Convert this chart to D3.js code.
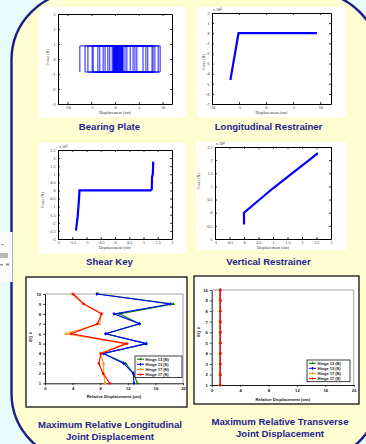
<!DOCTYPE html>
<html>
<head>
<meta charset="utf-8">
<script src="https://cdn.jsdelivr.net/npm/d3@7"></script>
<style>
  html, body { margin: 0; padding: 0; background: #e8fcfc; }
  svg { display: block; }
</style>
</head>
<body>
<svg id="board" width="366" height="444"></svg>
<script>
// ---------- data ----------
// Bearing plate: friction force plateau (x10^?) and the displacements where the motion reverses
const bearingForce = 0.87;
const bearingReversals = [-7.4, 9.5, -6.3, 9.1, -5.7, 8.4, -4.8, 8.0, -4.6, 7.8, -3.6, 6.9,
  -3.2, 6.5, -2.5, 5.9, -2.1, 4.6, -1.5, 4.2, -1.1, 3.8, -0.6, 3.2, -0.4, 2.5, -0.3, 2.1,
  -0.2, 1.7, -0.1, 1.6, 0.0, 1.5, 0.1, 1.4, 0.2, 1.3, 0.3, 1.2, 0.4, 1.1, 0.5, 1.0, 0.6, 0.9, 0.7, 0.8];
const bearingXTicks = [-10, -5, 0, 5, 10];
const bearingYTicks = [-3, -2, -1, 0, 1, 2, 3];

// Longitudinal restrainer: [displacement (cm), force (x10^4 N)]
const restrainerLong = [[-6.6, -4.63], [-5.1, 0], [9.4, 0]];
const restrainerLongXTicks = [-10, -5, 0, 5, 10];
const restrainerLongYTicks = [-7, -6, -5, -4, -3, -2, -1, 0, 1, 2];

// Shear key: [displacement (cm), force (x10^5 N)]
const shearKey = [[-1.37, -2.48], [-1.31, -1.62], [-1.27, -0.69], [-1.25, -0.14], [-1.25, 0],
  [1.25, 0], [1.29, 0.07], [1.30, 0.81], [1.33, 1.06], [1.34, 1.78]];
const shearKeyXTicks = [-2, -1.5, -1, -0.5, 0, 0.5, 1, 1.5, 2];
const shearKeyYTicks = [-3, -2.5, -2, -1.5, -1, -0.5, 0, 0.5, 1, 1.5, 2, 2.5];

// Vertical restrainer: [displacement (cm), force (x10^4 N)]
const restrainerVert = [[0, -0.45], [0, 0], [1, 0.93], [2.55, 2.27]];
const restrainerVertXTicks = [-1, -0.5, 0, 0.5, 1, 1.5, 2, 2.5, 3];
const restrainerVertYTicks = [-1, -0.5, 0, 0.5, 1, 1.5, 2, 2.5];

// Maximum relative joint displacement (cm) per earthquake
const eqNumbers = [1, 2, 3, 4, 5, 6, 7, 8, 9, 10];
const hingeNames = ["Hinge 13 (N)", "Hinge 13 (S)", "Hinge 17 (N)", "Hinge 17 (S)"];
const longH13N = [13.4, 12.8, 11.7, 8.5, 14.7, 8.8, 13.7, 10.8, 18.6, 7.7];
const longH13S = [12.9, 12.8, 11.4, 8.45, 14.7, 8.8, 13.7, 10.0, 18.2, 7.5];
const longH17N = [8.7, 8.5, 8.5, 8.0, 11.6, 3.0, 7.9, 8.2, 5.6, 3.9];
const longH17S = [9.4, 8.4, 7.8, 8.1, 11.9, 3.8, 7.6, 8.2, 5.6, 4.1];
const transH13N = [1.2, 1.2, 1.2, 1.2, 1.2, 1.2, 1.2, 1.2, 1.2, 1.2];
const transH13S = [1.2, 1.2, 1.2, 1.2, 1.2, 1.2, 1.2, 1.2, 1.2, 1.2];
const transH17N = [1.2, 1.2, 1.2, 1.2, 1.2, 1.2, 1.2, 1.2, 1.2, 1.2];
const transH17S = [1.2, 1.2, 1.2, 1.2, 1.2, 1.2, 1.2, 1.2, 1.2, 1.2];
const jointXTicks = [0, 4, 8, 12, 16, 20];

const captions = {
  bearing: ["Bearing Plate"],
  long: ["Longitudinal Restrainer"],
  shear: ["Shear Key"],
  vert: ["Vertical Restrainer"],
  jointLong: ["Maximum Relative Longitudinal", "Joint Displacement"],
  jointTrans: ["Maximum Relative Transverse", "Joint Displacement"]
};

// ---------- drawing ----------
const svg = d3.select("#board");
const navy = "#1c1c8c";
const titleColor = "#232390";

// slide background and rounded panel
svg.append("rect").attr("width", 366).attr("height", 444).attr("fill", "#e8fcfc");
svg.append("rect")
  .attr("x", 11.5).attr("y", -8).attr("width", 368).attr("height", 469)
  .attr("rx", 68).attr("ry", 68)
  .attr("fill", "#fffdd2").attr("stroke", navy).attr("stroke-width", 2.4);

// fragment of a neighbouring figure on the left edge
const frag = svg.append("g");
frag.append("rect").attr("x", 0).attr("y", 232).attr("width", 12.5).attr("height", 50).attr("fill", "#fbfbfb");
frag.append("rect").attr("x", 1).attr("y", 244).attr("width", 3).attr("height", 1).attr("fill", "#999");
frag.append("rect").attr("x", 0).attr("y", 253).attr("width", 8).attr("height", 5).attr("fill", "#b8b8b8");
frag.append("rect").attr("x", 0).attr("y", 264).attr("width", 3).attr("height", 1.5).attr("fill", "#999");
frag.append("rect").attr("x", 6).attr("y", 263.5).attr("width", 3).attr("height", 2).attr("fill", "#888");

const fmt = d => String(d);

function matlabPanel(o) {
  const g = svg.append("g");
  g.append("rect").attr("x", o.bg[0]).attr("y", o.bg[1]).attr("width", o.bg[2]).attr("height", o.bg[3]).attr("fill", "#fff");
  const x = d3.scaleLinear().domain(o.xDomain).range([o.frame[0], o.frame[2]]);
  const y = d3.scaleLinear().domain(o.yDomain).range([o.frame[3], o.frame[1]]);
  const styleAxis = sel => {
    sel.selectAll("path.domain").attr("stroke", "#000").attr("stroke-width", 1);
    sel.selectAll(".tick line").attr("stroke", "#000").attr("stroke-width", 0.8);
    sel.selectAll("text").attr("font-family", "Liberation Serif, serif").attr("font-size", 4).attr("fill", "#222");
  };
  g.append("g").attr("transform", `translate(0,${o.frame[3]})`)
    .call(d3.axisBottom(x).tickValues(o.xTicks).tickSize(-2).tickSizeOuter(0).tickPadding(2.5).tickFormat(fmt)).call(styleAxis);
  g.append("g").attr("transform", `translate(0,${o.frame[1]})`)
    .call(d3.axisTop(x).tickValues(o.xTicks).tickSize(-2).tickSizeOuter(0).tickFormat("")).call(styleAxis);
  g.append("g").attr("transform", `translate(${o.frame[0]},0)`)
    .call(d3.axisLeft(y).tickValues(o.yTicks).tickSize(-2).tickSizeOuter(0).tickPadding(2.5).tickFormat(fmt)).call(styleAxis);
  g.append("g").attr("transform", `translate(${o.frame[2]},0)`)
    .call(d3.axisRight(y).tickValues(o.yTicks).tickSize(-2).tickSizeOuter(0).tickFormat("")).call(styleAxis);
  g.append("path").datum(o.points)
    .attr("d", d3.line().x(d => x(d[0])).y(d => y(d[1])))
    .attr("fill", "none").attr("stroke", "#0000ff").attr("stroke-width", o.lw)
    .attr("stroke-linejoin", "miter");
  if (o.expo) {
    const t = g.append("text").attr("x", o.frame[0] + 1).attr("y", o.frame[1] - 2)
      .attr("font-family", "Liberation Serif, serif").attr("font-size", 4).attr("fill", "#222");
    t.append("tspan").text("x 10");
    t.append("tspan").attr("dy", -1.5).attr("font-size", 3).text(o.expo);
  }
  g.append("text").attr("transform", `translate(${o.ylab[0]},${o.ylab[1]}) rotate(-90)`)
    .attr("text-anchor", "middle").attr("font-family", "Liberation Serif, serif").attr("font-size", 4).attr("fill", "#333")
    .text("Force (N)");
  g.append("text").attr("x", (o.frame[0] + o.frame[2]) / 2).attr("y", o.frame[3] + 10)
    .attr("text-anchor", "middle").attr("font-family", "Liberation Serif, serif").attr("font-size", 4.2).attr("fill", "#333")
    .text("Displacement (cm)");
  caption(o.caption, (o.bg[0] + o.bg[0] + o.bg[2]) / 2 - 3, o.capY);
}

function caption(lines, cx, cy) {
  lines.forEach((s, i) => {
    svg.append("text").attr("x", cx).attr("y", cy + i * 11.5)
      .attr("text-anchor", "middle").attr("font-family", "Liberation Sans, Arial, sans-serif")
      .attr("font-weight", "bold").attr("font-size", 9.6).attr("fill", titleColor).text(s);
  });
}

// bearing plate hysteresis: vertical jumps at reversals, sliding at constant force
const bearingPath = [];
bearingReversals.forEach((r, i) => {
  const s = i % 2 === 0 ? -1 : 1;
  bearingPath.push([r, s * bearingForce]);
  bearingPath.push([r, -s * bearingForce]);
});

matlabPanel({ bg: [39, 7, 147, 110], frame: [58, 14, 172, 104], xDomain: [-12, 12], yDomain: [-3, 3],
  xTicks: bearingXTicks, yTicks: bearingYTicks, points: bearingPath, lw: 0.9,
  ylab: [49, 57], caption: captions.bearing, capY: 130 });
matlabPanel({ bg: [197, 7, 149, 110], frame: [212, 13, 331, 104], xDomain: [-10, 12], yDomain: [-7, 2],
  xTicks: restrainerLongXTicks, yTicks: restrainerLongYTicks, points: restrainerLong, lw: 2.2, expo: "4",
  ylab: [205, 62], caption: captions.long, capY: 130 });
matlabPanel({ bg: [39, 143, 147, 110], frame: [58, 150, 172, 239], xDomain: [-2, 2], yDomain: [-3, 2.5],
  xTicks: shearKeyXTicks, yTicks: shearKeyYTicks, points: shearKey, lw: 2.2, expo: "5",
  ylab: [44, 200], caption: captions.shear, capY: 265 });
matlabPanel({ bg: [196, 142, 151, 108], frame: [215, 147, 331, 239], xDomain: [-1, 3], yDomain: [-1, 2.5],
  xTicks: restrainerVertXTicks, yTicks: restrainerVertYTicks, points: restrainerVert, lw: 2.2, expo: "4",
  ylab: [200, 181], caption: captions.vert, capY: 265 });

// ---------- joint displacement charts ----------
const seriesColors = ["#008000", "#0000ff", "#ff9900", "#ff0000"];
const markerTypes = [d3.symbolTriangle, d3.symbolDiamond, d3.symbolTriangle, d3.symbolSquare];

function jointChart(o) {
  const g = svg.append("g");
  g.append("rect").attr("x", o.box[0]).attr("y", o.box[1]).attr("width", o.box[2]).attr("height", o.box[3])
    .attr("fill", "#fff").attr("stroke", "#111").attr("stroke-width", 1.3);
  const x = d3.scaleLinear().domain([0, 20]).range([o.plot[0], o.plot[2]]);
  const y = d3.scaleLinear().domain([1, 10]).range([o.plot[3], o.plot[1]]);
  // plot area border (gray top / right)
  g.append("path").attr("d", `M${o.plot[0]},${o.plot[1]}H${o.plot[2]}V${o.plot[3]}`)
    .attr("fill", "none").attr("stroke", "#8c8c8c").attr("stroke-width", 0.8);
  const styleAxis = sel => {
    sel.selectAll("path.domain").attr("stroke", "#000").attr("stroke-width", 0.9);
    sel.selectAll(".tick line").attr("stroke", "#000").attr("stroke-width", 0.8);
    sel.selectAll("text").attr("font-family", "Liberation Sans, Arial, sans-serif").attr("font-weight", "bold")
      .attr("font-size", 4.2).attr("fill", "#111");
  };
  g.append("g").attr("transform", `translate(0,${o.plot[3]})`)
    .call(d3.axisBottom(x).tickValues(jointXTicks).tickSize(1.8).tickSizeOuter(0).tickPadding(2).tickFormat(fmt)).call(styleAxis);
  g.append("g").attr("transform", `translate(${o.plot[0]},0)`)
    .call(d3.axisLeft(y).tickValues(eqNumbers).tickSize(1.8).tickSizeOuter(0).tickPadding(2).tickFormat(fmt)).call(styleAxis);
  g.append("text").attr("transform", `translate(${o.ytitle[0]},${o.ytitle[1]}) rotate(-90)`)
    .attr("text-anchor", "middle").attr("font-family", "Liberation Sans, Arial, sans-serif").attr("font-weight", "bold")
    .attr("font-size", 4.2).attr("fill", "#111").text("EQ #");
  g.append("text").attr("x", (o.plot[0] + o.plot[2]) / 2).attr("y", o.xtitleY)
    .attr("text-anchor", "middle").attr("font-family", "Liberation Sans, Arial, sans-serif").attr("font-weight", "bold")
    .attr("font-size", 4.2).attr("fill", "#111").text("Relative Displacement (cm)");

  const line = d3.line().x(d => x(d[1])).y(d => y(d[0]));
  o.series.forEach((vals, i) => {
    const pts = eqNumbers.map((e, k) => [e, vals[k]]);
    g.append("path").datum(pts).attr("d", line).attr("fill", "none")
      .attr("stroke", seriesColors[i]).attr("stroke-width", 1.1);
    g.selectAll(null).data(pts).join("path")
      .attr("transform", d => `translate(${x(d[1])},${y(d[0])})`)
      .attr("d", d3.symbol().type(markerTypes[i]).size(5))
      .attr("fill", seriesColors[i]);
  });

  // legend
  const L = o.legend;
  g.append("rect").attr("x", L[0]).attr("y", L[1]).attr("width", L[2]).attr("height", L[3])
    .attr("fill", "#fff").attr("stroke", "#111").attr("stroke-width", 0.8);
  hingeNames.forEach((name, i) => {
    const ry = L[1] + 3.2 + i * 5.1;
    g.append("line").attr("x1", L[0] + 2).attr("x2", L[0] + 9).attr("y1", ry).attr("y2", ry)
      .attr("stroke", seriesColors[i]).attr("stroke-width", 1);
    g.append("path").attr("transform", `translate(${L[0] + 5.5},${ry})`)
      .attr("d", d3.symbol().type(markerTypes[i]).size(4)).attr("fill", seriesColors[i]);
    g.append("text").attr("x", L[0] + 10.5).attr("y", ry + 1.4)
      .attr("font-family", "Liberation Sans, Arial, sans-serif").attr("font-weight", "bold")
      .attr("font-size", 4).attr("fill", "#111").text(name);
  });
  caption(o.caption, o.capX, o.capY);
}

jointChart({ box: [26, 277, 161, 130], plot: [45, 294, 183, 383.3],
  series: [longH13N, longH13S, longH17N, longH17S], legend: [135, 356, 47, 21.5],
  ytitle: [32, 337], xtitleY: 397.5, caption: captions.jointLong, capX: 110, capY: 428 });
jointChart({ box: [194, 276, 165, 128], plot: [211.7, 290, 353.7, 385],
  series: [transH13N, transH13S, transH17N, transH17S], legend: [307, 360, 43, 21.7],
  ytitle: [200, 332], xtitleY: 401, caption: captions.jointTrans, capX: 280, capY: 425 });
</script>
</body>
</html>
